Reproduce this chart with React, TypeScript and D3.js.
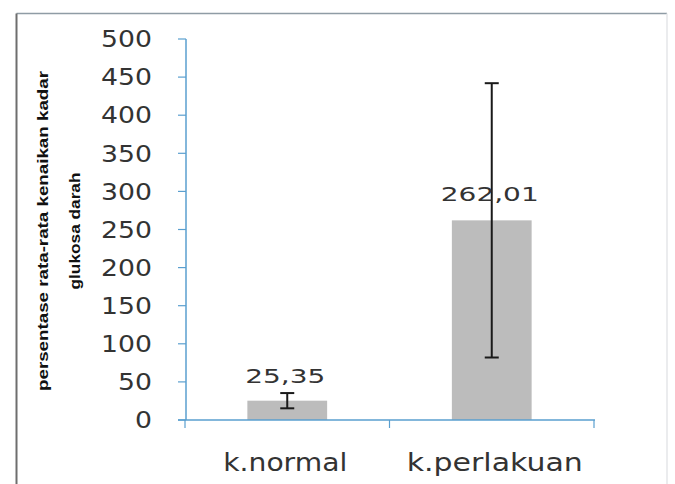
import React from "react";
import * as d3 from "d3";

const categories = ["k.normal", "k.perlakuan"];
const values = [25.35, 262.01];
const errors = [10, 180];
const valueLabels = ["25,35", "262,01"];
const yTicks = [0, 50, 100, 150, 200, 250, 300, 350, 400, 450, 500];
const titleLines = ["persentase rata-rata kenaikan kadar", "glukosa darah"];

export default function App() {
  const W = 675;
  const H = 484;
  const y = d3.scaleLinear().domain([0, 500]).range([420, 39]);
  const x = d3.scaleBand<string>().domain(categories).range([185, 594]).padding(0);
  const bw = x.bandwidth() * 0.39;
  const axisColor = "#5a9fcf";
  const textColor = "#333";
  const font = "DejaVu Sans, sans-serif";
  const catWidths = [124, 176];
  const labelWidths = [80, 98];

  return (
    <svg
      width={W}
      height={H}
      viewBox={`0 0 ${W} ${H}`}
      style={{ position: "absolute", left: 0, top: 0, background: "#fff" }}
    >
      <rect x={0} y={0} width={W} height={H} fill="#fff" />
      {/* frame */}
      <line x1={16.5} y1={13.5} x2={667} y2={13.5} stroke="#8f9ca5" strokeWidth={1.5} />
      <line x1={667} y1={13.5} x2={667} y2={H} stroke="#e4e6e8" strokeWidth={1.5} />
      <line x1={16.5} y1={13.5} x2={16.5} y2={H} stroke="#6e6e6e" strokeWidth={2} />

      {/* y title */}
      {titleLines.map((t, i) => {
        const cx = i === 0 ? 43 : 75;
        const cy = 231;
        const len = i === 0 ? 320 : 117;
        return (
          <text
            key={t}
            transform={`translate(${cx},${cy}) rotate(-90)`}
            textAnchor="middle"
            dy="0.35em"
            fontFamily="Liberation Sans Narrow, Liberation Sans, Arial, sans-serif"
            fontWeight="bold"
            fontSize={15}
            textLength={len}
            lengthAdjust="spacingAndGlyphs"
            fill="#111"
          >
            {t}
          </text>
        );
      })}

      {/* y ticks and labels */}
      {yTicks.map((t) => (
        <g key={t}>
          <line x1={178} x2={186} y1={y(t)} y2={y(t)} stroke={axisColor} strokeWidth={1.2} />
          <text
            transform={`translate(152,${y(t)}) scale(1.16,1)`}
            textAnchor="end"
            dy="0.36em"
            fontFamily={font}
            fontSize={23}
            fill={textColor}
          >
            {t}
          </text>
        </g>
      ))}

      {/* bars */}
      {categories.map((c, i) => {
        const cx = (x(c) as number) + x.bandwidth() / 2;
        return (
          <rect
            key={c}
            x={cx - bw / 2}
            y={y(values[i])}
            width={bw}
            height={y(0) - y(values[i])}
            fill="#bcbcbc"
          />
        );
      })}

      {/* axes */}
      <line x1={186} x2={186} y1={39} y2={420} stroke={axisColor} strokeWidth={1.5} />
      <line x1={178} x2={595} y1={420} y2={420} stroke={axisColor} strokeWidth={1.5} />
      {[...categories.map((c) => x(c) as number), 594].map((t, i) => (
        <line key={i} x1={t} x2={t} y1={420} y2={428} stroke={axisColor} strokeWidth={1.2} />
      ))}

      {/* error bars */}
      {categories.map((c, i) => {
        const cx = (x(c) as number) + x.bandwidth() / 2;
        const top = y(values[i] + errors[i]);
        const bot = y(values[i] - errors[i]);
        return (
          <g key={c} stroke="#1a1a1a" strokeWidth={2}>
            <line x1={cx} x2={cx} y1={top} y2={bot} />
            <line x1={cx - 7} x2={cx + 7} y1={top} y2={top} />
            <line x1={cx - 7} x2={cx + 7} y1={bot} y2={bot} />
          </g>
        );
      })}

      {/* value labels */}
      {categories.map((c, i) => {
        const cx = (x(c) as number) + x.bandwidth() / 2;
        const ty = i === 0 ? 383 : 201;
        return (
          <text
            key={c}
            x={cx - 2}
            y={ty}
            textAnchor="middle"
            fontFamily={font}
            fontSize={20}
            textLength={labelWidths[i]}
            lengthAdjust="spacingAndGlyphs"
            fill={textColor}
          >
            {valueLabels[i]}
          </text>
        );
      })}

      {/* category labels */}
      {categories.map((c, i) => {
        const cx = (x(c) as number) + x.bandwidth() / 2;
        return (
          <text
            key={c}
            x={cx + (i === 0 ? -2 : 3)}
            y={471}
            textAnchor="middle"
            fontFamily={font}
            fontSize={24}
            textLength={catWidths[i]}
            lengthAdjust="spacingAndGlyphs"
            fill={textColor}
          >
            {c}
          </text>
        );
      })}
    </svg>
  );
}
